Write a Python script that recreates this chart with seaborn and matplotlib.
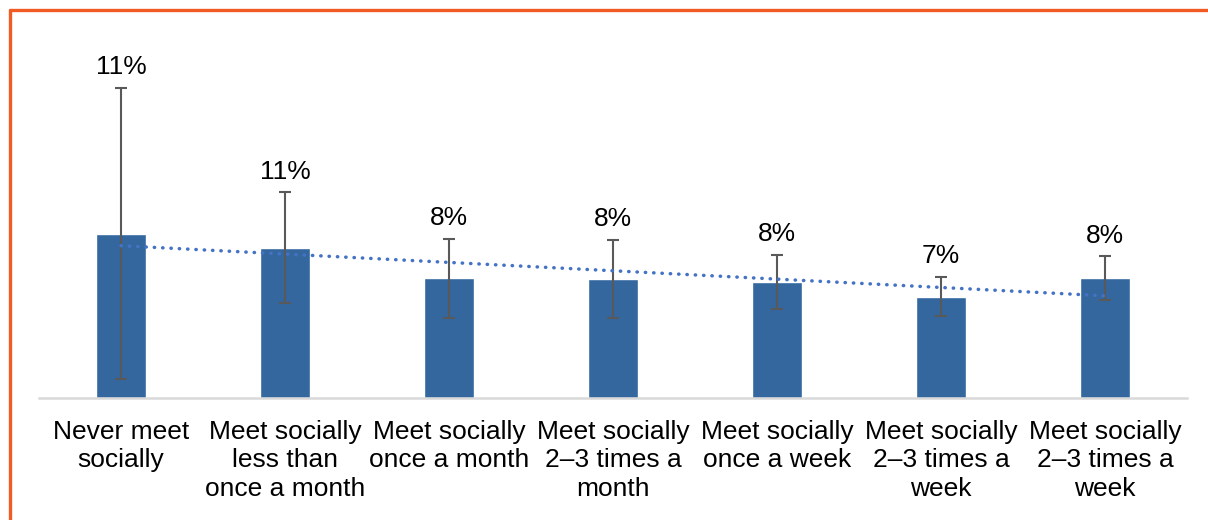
import numpy as np
import pandas as pd
import matplotlib
matplotlib.use("Agg")
import matplotlib.pyplot as plt
from matplotlib.lines import Line2D
import seaborn as sns

# data (percent)
categories = [
    "Never meet\nsocially",
    "Meet socially\nless than\nonce a month",
    "Meet socially\nonce a month",
    "Meet socially\n2\u20133 times a\nmonth",
    "Meet socially\nonce a week",
    "Meet socially\n2\u20133 times a\nweek",
    "Meet socially\n2\u20133 times a\nweek",
]
values = [11.0, 10.1, 8.05, 7.98, 7.8, 6.8, 8.05]
err_low = [1.3, 6.4, 5.4, 5.4, 6.0, 5.5, 6.6]
err_high = [20.8, 13.8, 10.7, 10.6, 9.6, 8.1, 9.5]
value_labels = ["11%", "11%", "8%", "8%", "8%", "7%", "8%"]

BAR_COLOR = "#33679E"
ERR_COLOR = "#595959"
TREND_COLOR = "#4472C4"
BORDER_COLOR = "#F15A24"

sns.set_theme(style="white")
plt.rcParams["font.family"] = ["Liberation Sans", "DejaVu Sans"]

df = pd.DataFrame({"pos": range(len(values)), "value": values})

fig = plt.figure(figsize=(12.08, 5.2), dpi=100)
ax = fig.add_axes([39 / 1208, (520 - 398) / 520, 1148 / 1208, 368 / 520])

sns.barplot(data=df, x="pos", y="value", color=BAR_COLOR, width=0.31,
            saturation=1, errorbar=None, ax=ax)

x = np.arange(len(values))
vals = np.array(values)
yerr = np.vstack([vals - np.array(err_low), np.array(err_high) - vals])
ax.errorbar(x, vals, yerr=yerr, fmt="none", ecolor=ERR_COLOR,
            elinewidth=1.5, capsize=4.3, capthick=1.5, zorder=3)

# linear trend line
slope, intercept = np.polyfit(x, vals, 1)
ax.plot(x, slope * x + intercept, color=TREND_COLOR, lw=2.5,
        linestyle=(0, (0.1, 2.3)), dash_capstyle="round", zorder=4)

for xi, top, lab in zip(x, err_high, value_labels):
    ax.annotate(lab, (xi, top), xytext=(0, 10), textcoords="offset points",
                ha="center", va="baseline", fontsize=19, color="black")

ax.set_xlim(-0.5, len(values) - 0.5)
ax.set_ylim(0, 24.7)
ax.set_xticks(x)
ax.set_xticklabels(categories, fontsize=19, color="black", linespacing=1.22)
ax.tick_params(axis="x", length=0, pad=16)
ax.set_yticks([])
ax.set_xlabel("")
ax.set_ylabel("")
for side in ["top", "right", "left"]:
    ax.spines[side].set_visible(False)
ax.spines["bottom"].set_color("#D9D9D9")
ax.spines["bottom"].set_linewidth(1.8)

# orange frame on top and left
fig.add_artist(Line2D([10 / 1208, 1.0], [1 - 9.5 / 520, 1 - 9.5 / 520],
                      transform=fig.transFigure, color=BORDER_COLOR, lw=2.4))
fig.add_artist(Line2D([10 / 1208, 10 / 1208], [0, 1 - 9.5 / 520],
                      transform=fig.transFigure, color=BORDER_COLOR, lw=2.4))

fig.savefig("out.png", dpi=100, facecolor="white")
